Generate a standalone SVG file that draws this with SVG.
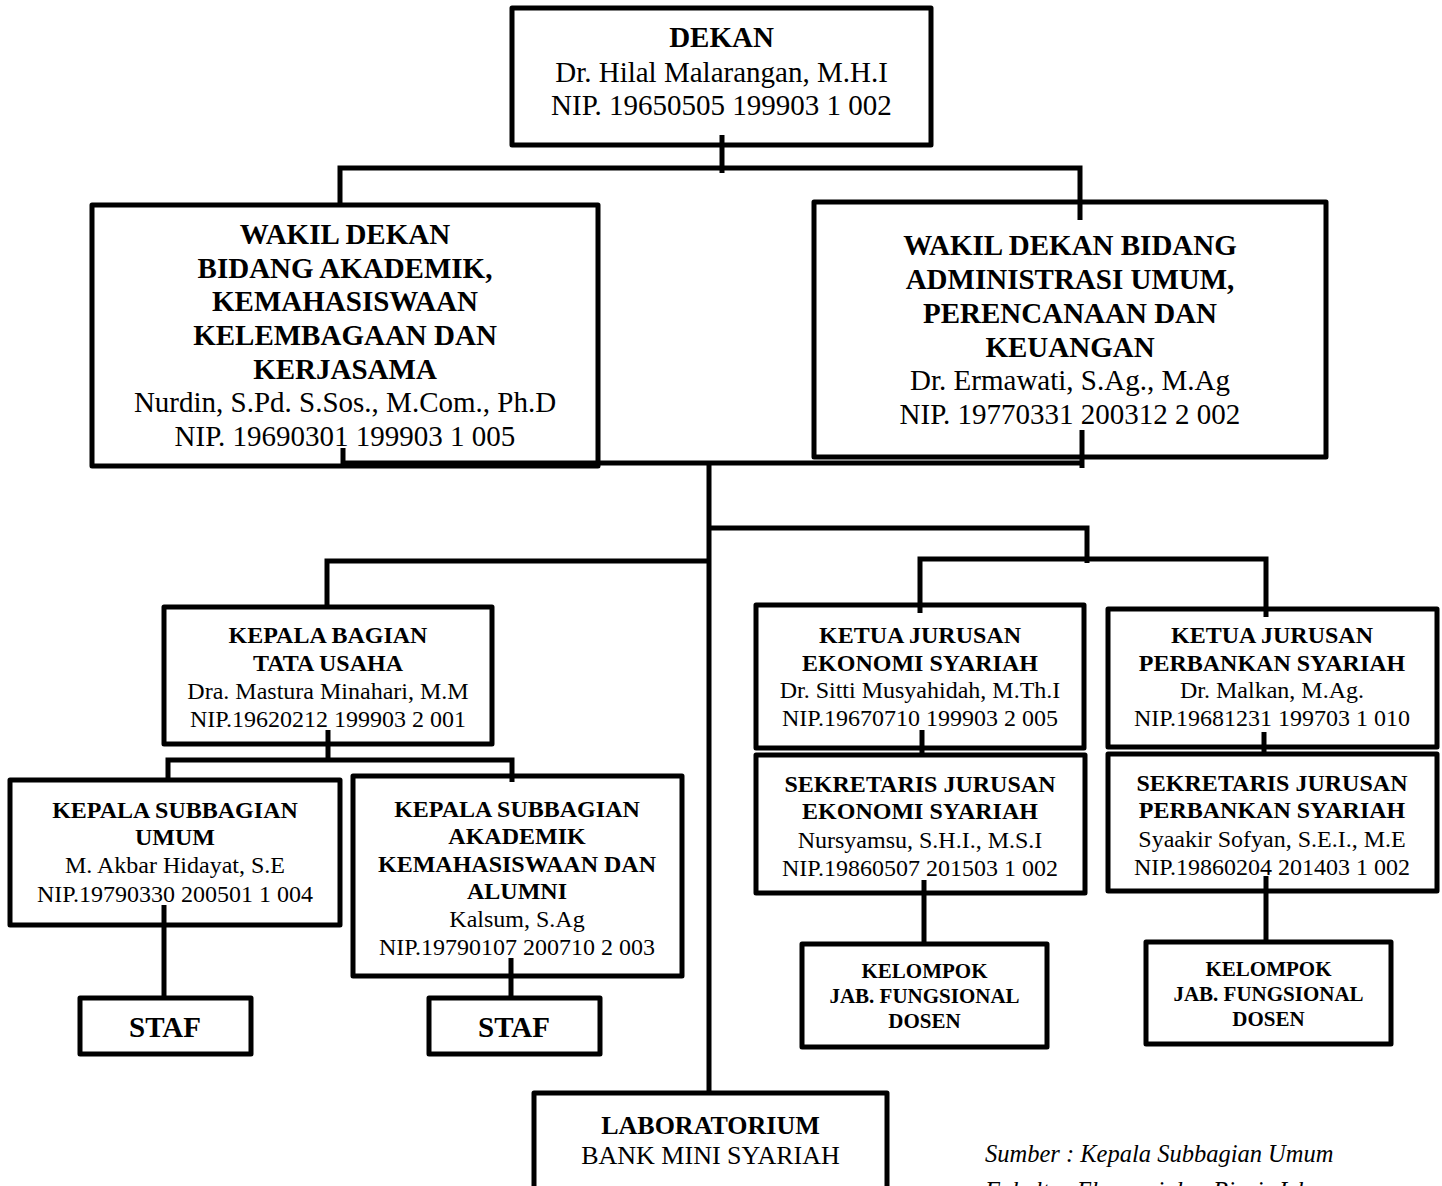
<svg xmlns="http://www.w3.org/2000/svg" width="1442" height="1186" viewBox="0 0 1442 1186">
<style>
.box{fill:#fff;stroke:#000;stroke-width:5;stroke-linejoin:round}
.ln{fill:none;stroke:#000;stroke-width:5;stroke-linejoin:miter;stroke-linecap:butt}
text{font-family:"Liberation Serif","Times New Roman",serif;fill:#000;text-anchor:middle}
.t29{font-size:29px}
.t24{font-size:24px}
.t21{font-size:21px;font-weight:bold}
.t26{font-size:26px}
.b{font-weight:bold}
.src{font-size:24.5px;font-style:italic;text-anchor:start}
</style>
<rect width="1442" height="1186" fill="#fff"/>
<g id="dekan">
<rect class="box" x="512" y="8" width="419" height="137"/>
<text class="t29" x="721.5"><tspan class="b" x="721.5" y="47">DEKAN</tspan><tspan x="721.5" y="82">Dr. Hilal Malarangan, M.H.I</tspan><tspan x="721.5" y="115">NIP. 19650505 199903 1 002</tspan></text>
</g>
<g id="wd1">
<rect class="box" x="92" y="205" width="506" height="261"/>
<text class="t29"><tspan class="b" x="345" y="244">WAKIL DEKAN</tspan><tspan class="b" x="345" y="278">BIDANG AKADEMIK,</tspan><tspan class="b" x="345" y="311">KEMAHASISWAAN</tspan><tspan class="b" x="345" y="345">KELEMBAGAAN DAN</tspan><tspan class="b" x="345" y="379">KERJASAMA</tspan><tspan x="345" y="412">Nurdin, S.Pd. S.Sos., M.Com., Ph.D</tspan><tspan x="345" y="446">NIP. 19690301 199903 1 005</tspan></text>
</g>
<g id="wd2">
<rect class="box" x="814" y="202" width="512" height="255"/>
<text class="t29"><tspan class="b" x="1070" y="255">WAKIL DEKAN BIDANG</tspan><tspan class="b" x="1070" y="289">ADMINISTRASI UMUM,</tspan><tspan class="b" x="1070" y="323">PERENCANAAN DAN</tspan><tspan class="b" x="1070" y="357">KEUANGAN</tspan><tspan x="1070" y="390">Dr. Ermawati, S.Ag., M.Ag</tspan><tspan x="1070" y="424">NIP. 19770331 200312 2 002</tspan></text>
</g>
<g id="kbtu">
<rect class="box" x="164" y="607" width="328" height="137"/>
<text class="t24"><tspan class="b" x="328" y="643">KEPALA BAGIAN</tspan><tspan class="b" x="328" y="671">TATA USAHA</tspan><tspan x="328" y="699">Dra. Mastura Minahari, M.M</tspan><tspan x="328" y="727">NIP.19620212 199903 2 001</tspan></text>
</g>
<g id="ksu">
<rect class="box" x="10" y="780" width="330" height="145"/>
<text class="t24"><tspan class="b" x="175" y="818">KEPALA SUBBAGIAN</tspan><tspan class="b" x="175" y="845">UMUM</tspan><tspan x="175" y="873">M. Akbar Hidayat, S.E</tspan><tspan x="175" y="902">NIP.19790330 200501 1 004</tspan></text>
</g>
<g id="ksaka">
<rect class="box" x="353" y="776" width="329" height="200"/>
<text class="t24"><tspan class="b" x="517" y="817">KEPALA SUBBAGIAN</tspan><tspan class="b" x="517" y="844">AKADEMIK</tspan><tspan class="b" x="517" y="872">KEMAHASISWAAN DAN</tspan><tspan class="b" x="517" y="899">ALUMNI</tspan><tspan x="517" y="927">Kalsum, S.Ag</tspan><tspan x="517" y="955">NIP.19790107 200710 2 003</tspan></text>
</g>
<g id="staf1">
<rect class="box" x="80" y="998" width="171" height="56"/>
<text class="t29 b" x="165" y="1037">STAF</text>
</g>
<g id="staf2">
<rect class="box" x="429" y="998" width="171" height="56"/>
<text class="t29 b" x="514" y="1037">STAF</text>
</g>
<g id="kjes">
<rect class="box" x="756" y="605" width="328" height="143"/>
<text class="t24"><tspan class="b" x="920" y="643">KETUA JURUSAN</tspan><tspan class="b" x="920" y="671">EKONOMI SYARIAH</tspan><tspan x="920" y="698">Dr. Sitti Musyahidah, M.Th.I</tspan><tspan x="920" y="726">NIP.19670710 199903 2 005</tspan></text>
</g>
<g id="kjps">
<rect class="box" x="1108" y="609" width="329" height="138"/>
<text class="t24"><tspan class="b" x="1272" y="643">KETUA JURUSAN</tspan><tspan class="b" x="1272" y="671">PERBANKAN SYARIAH</tspan><tspan x="1272" y="698">Dr. Malkan, M.Ag.</tspan><tspan x="1272" y="726">NIP.19681231 199703 1 010</tspan></text>
</g>
<g id="sjes">
<rect class="box" x="756" y="755" width="329" height="138"/>
<text class="t24"><tspan class="b" x="920" y="792">SEKRETARIS JURUSAN</tspan><tspan class="b" x="920" y="819">EKONOMI SYARIAH</tspan><tspan x="920" y="848">Nursyamsu, S.H.I., M.S.I</tspan><tspan x="920" y="876">NIP.19860507 201503 1 002</tspan></text>
</g>
<g id="sjps">
<rect class="box" x="1108" y="754" width="329" height="137"/>
<text class="t24"><tspan class="b" x="1272" y="791">SEKRETARIS JURUSAN</tspan><tspan class="b" x="1272" y="818">PERBANKAN SYARIAH</tspan><tspan x="1272" y="847">Syaakir Sofyan, S.E.I., M.E</tspan><tspan x="1272" y="875">NIP.19860204 201403 1 002</tspan></text>
</g>
<g id="kel1">
<rect class="box" x="802" y="944" width="245" height="103"/>
<text class="t21"><tspan x="924.5" y="978">KELOMPOK</tspan><tspan x="924.5" y="1003">JAB. FUNGSIONAL</tspan><tspan x="924.5" y="1028">DOSEN</tspan></text>
</g>
<g id="kel2">
<rect class="box" x="1146" y="942" width="245" height="102"/>
<text class="t21"><tspan x="1268.5" y="976">KELOMPOK</tspan><tspan x="1268.5" y="1001">JAB. FUNGSIONAL</tspan><tspan x="1268.5" y="1026">DOSEN</tspan></text>
</g>
<g id="lab">
<rect class="box" x="534" y="1093" width="353" height="110"/>
<text class="t26"><tspan class="b" x="710.5" y="1134">LABORATORIUM</tspan><tspan x="710.5" y="1164">BANK MINI SYARIAH</tspan></text>
</g>
<g id="connectors">
<path class="ln" d="M722 135 V173"/>
<path class="ln" d="M340 205 V168 H1080 V220"/>
<path class="ln" d="M343 448 V463 H1082"/>
<path class="ln" d="M1082 430 V468"/>
<path class="ln" d="M709 463 V1093"/>
<path class="ln" d="M709 561 H327 V607"/>
<path class="ln" d="M709 528 H1087 V563"/>
<path class="ln" d="M920 613 V559 H1266 V617"/>
<path class="ln" d="M328 730 V760"/>
<path class="ln" d="M168 782 V760 H512 V782"/>
<path class="ln" d="M164 905 V998"/>
<path class="ln" d="M511 958 V998"/>
<path class="ln" d="M922 730 V755"/>
<path class="ln" d="M1264 732 V755"/>
<path class="ln" d="M924 880 V944"/>
<path class="ln" d="M1266 876 V942"/>
</g>
<g id="source">
<text class="src" x="985" y="1162">Sumber : Kepala Subbagian Umum</text>
<text class="src" x="985" y="1199">Fakultas Ekonomi dan Bisnis Islam</text>
</g>
</svg>
